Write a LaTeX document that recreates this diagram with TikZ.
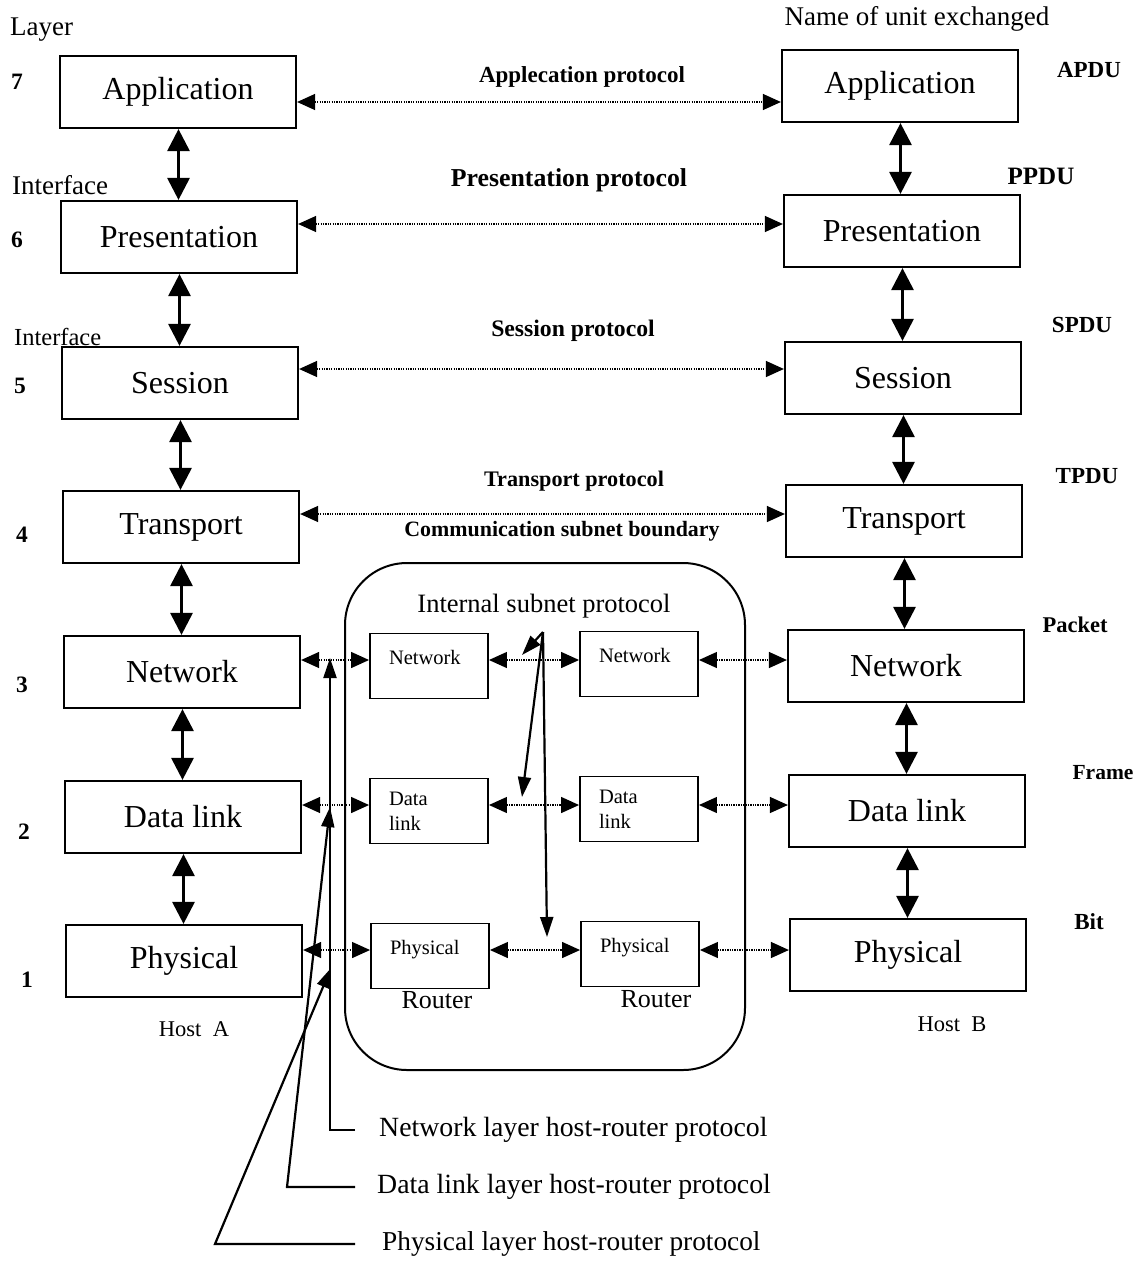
\documentclass[tikz,border=0pt]{standalone}
\usepackage{fontspec}
\setmainfont{Liberation Serif}
\usetikzlibrary{arrows.meta,calc}
\newcommand\fsz[1]{\fontsize{#1}{1.2\dimexpr #1pt\relax}\selectfont}
\begin{document}
\begin{tikzpicture}[x=1pt,y=-1pt,
  txt/.style={inner sep=2pt},
  layerbox/.style={draw, line width=2.2pt, minimum width=236pt, minimum height=72pt, inner sep=0pt, font=\fsz{32}},
  routerbox/.style={draw, line width=1.9pt, minimum width=118pt, minimum height=65pt, inner sep=0pt,
                    text width=80pt, align=left, font=\fsz{20.5}},
  oneline/.style={text height=14pt, text depth=18pt},
  stack/.style={line width=3pt, {Triangle[width=22pt,length=22pt]}-{Triangle[width=22pt,length=22pt]}},
  peer/.style={line width=1.3pt, dash pattern=on 1.3pt off 1.1pt,
               {Triangle[width=16pt,length=18pt]}-{Triangle[width=16pt,length=18pt]}},
  pointer/.style={line width=2.2pt, -{Triangle[width=13pt,length=20pt]}},
  proto/.style={txt, font=\bfseries\fsz{23}},
  unit/.style={txt, font=\bfseries\fsz{23}},
  note/.style={txt, font=\fsz{27}},
  num/.style={txt, font=\bfseries\fsz{23.5}},
]
\useasboundingbox (0,0) rectangle (1147,1262);

% ---------- host A stack ----------
\node[layerbox] (lA)  at (178,92)  {Application};
\node[layerbox] (lP)  at (179,237) {Presentation};
\node[layerbox] (lS)  at (180,383) {Session};
\node[layerbox] (lT)  at (181,527) {Transport};
\node[layerbox] (lN)  at (182,672) {Network};
\node[layerbox] (lD)  at (183,817) {Data link};
\node[layerbox] (lPh) at (184,961) {Physical};

% ---------- host B stack ----------
\node[layerbox] (rA)  at (900,86)  {Application};
\node[layerbox] (rP)  at (902,231) {Presentation};
\node[layerbox] (rS)  at (903,378) {Session};
\node[layerbox] (rT)  at (904,521) {Transport};
\node[layerbox] (rN)  at (906,666) {Network};
\node[layerbox] (rD)  at (907,811) {Data link};
\node[layerbox] (rPh) at (908,955) {Physical};

% interfaces between adjacent layers (kept vertical)
\foreach \a/\b in {lA/lP,lP/lS,lS/lT,lT/lN,lN/lD,lD/lPh,rA/rP,rP/rS,rS/rT,rT/rN,rN/rD,rD/rPh}
  \draw[stack] ([xshift=0.5pt]\a.south) -- ([xshift=0.5pt]\a.south |- \b.north);

% ---------- communication subnet ----------
\draw[line width=2pt, rounded corners=62pt] (345,563) rectangle (745,1070);

\node[routerbox, oneline] (r1n) at (429,666) {Network};
\node[routerbox, oneline] (r2n) at (639,664) {Network};
\node[routerbox]          (r1d) at (429,811) {Data\\link};
\node[routerbox]          (r2d) at (639,809) {Data\\link};
\node[routerbox, oneline] (r1p) at (430,956) {Physical};
\node[routerbox, oneline] (r2p) at (640,954) {Physical};

\node[txt, font=\fsz{26}] (rt1) at (437,1000) {Router};
\node[txt, font=\fsz{26}] (rt2) at (656,999)  {Router};

% ---------- peer protocols between hosts ----------
\coordinate (yA) at (0,102);
\coordinate (yP) at (0,224);
\coordinate (yS) at (0,369);
\coordinate (yT) at (0,514);
\draw[peer] (lA.east |- yA) -- (rA.west |- yA);
\draw[peer] (lP.east |- yP) -- (rP.west |- yP);
\draw[peer] (lS.east |- yS) -- (rS.west |- yS);
\draw[peer] (lT.east |- yT) -- (rT.west |- yT);

% ---------- host-router and router-router links ----------
\coordinate (hN) at ([yshift=6pt]r1n.west);
\coordinate (hD) at ([yshift=6pt]r1d.west);
\coordinate (hP) at ([yshift=6pt]r1p.west);
\foreach \h/\ra/\rb/\hl/\hr in {hN/r1n/r2n/lN/rN, hD/r1d/r2d/lD/rD, hP/r1p/r2p/lPh/rPh}{
  \draw[peer] (\hl.east |- \h) -- (\h);
  \draw[peer] (\ra.east |- \h) -- (\rb.west |- \h);
  \draw[peer] (\rb.east |- \h) -- (\hr.west |- \h);
}

% ---------- internal subnet protocol pointers ----------
\node[txt, font=\fsz{26.5}] (isp) at (544,606) {Internal subnet protocol};
\coordinate (fan)  at (543,632);
\coordinate (fanN) at (522,655);
\coordinate (fanD) at (522,797);
\coordinate (fanP) at (547,937);
\draw[pointer] (fan) -- (fanN);
\draw[pointer] (fan) -- (fanD);
\draw[pointer] (fan) -- (fanP);

% ---------- host-router protocol callouts ----------
\node[note, anchor=west, font=\fsz{27.8}] (cN) at (377,1130) {Network layer host-router protocol};
\node[note, anchor=west, font=\fsz{27.8}] (cD) at (375,1187) {Data link layer host-router protocol};
\node[note, anchor=west, font=\fsz{27.3}] (cP) at (380,1244) {Physical layer host-router protocol};
\coordinate (kN) at (330,1130);  \coordinate (tN) at (330,658);
\coordinate (kD) at (287,1187);  \coordinate (tD) at (330,807);
\coordinate (kP) at (215,1244);  \coordinate (tP) at (331,968);
\draw[pointer] ([xshift=-22pt]cN.west) -- (kN) -- (tN);
\draw[pointer] ([xshift=-20pt]cD.west) -- (kD) -- (tD);
\draw[pointer] ([xshift=-25pt]cP.west) -- (kP) -- (tP);

% ---------- protocol labels ----------
\node[proto] (lbA) at (582,77)  {Applecation protocol};
\node[proto, font=\bfseries\fsz{25.8}] (lbP) at (569,180) {Presentation protocol};
\node[proto, font=\bfseries\fsz{23.7}] (lbS) at (573,331) {Session protocol};
\node[proto, font=\bfseries\fsz{22.2}] (lbT) at (574,481) {Transport protocol};
\node[proto, font=\bfseries\fsz{21.9}] (lbC) at (562,531) {Communication subnet boundary};

% ---------- layer numbers and interface notes ----------
\node[note, anchor=west] (layer) at (8,30) {Layer};
\node[note, anchor=west] (if1) at (10,185) {Interface};
\node[note, anchor=west, font=\fsz{24.5}] (if2) at (12,337) {Interface};
\node[num] (n7) at (17,82)  {7};
\node[num] (n6) at (17,240) {6};
\node[num] (n5) at (20,386) {5};
\node[num] (n4) at (22,535) {4};
\node[num] (n3) at (22,685) {3};
\node[num] (n2) at (24,832) {2};
\node[num] (n1) at (27,980) {1};

\node[txt, font=\fsz{22.5}] (hostA) at (194,1029) {Host\ \ A};
\node[txt, font=\fsz{22.5}] (hostB) at (952,1024) {Host\ \ B};

% ---------- unit names ----------
\node[note] (units) at (917,19) {Name of unit exchanged};
\node[unit] (uA) at (1089,70)  {APDU};
\node[unit, font=\bfseries\fsz{25}] (uP) at (1041,176) {PPDU};
\node[unit] (uS) at (1082,325) {SPDU};
\node[unit] (uT) at (1087,476) {TPDU};
\node[unit, font=\bfseries\fsz{22.5}] (uN) at (1075,625) {Packet};
\node[unit, font=\bfseries\fsz{21.5}] (uD) at (1103,773) {Frame};
\node[unit] (uB) at (1089,922) {Bit};
\end{tikzpicture}
\end{document}
